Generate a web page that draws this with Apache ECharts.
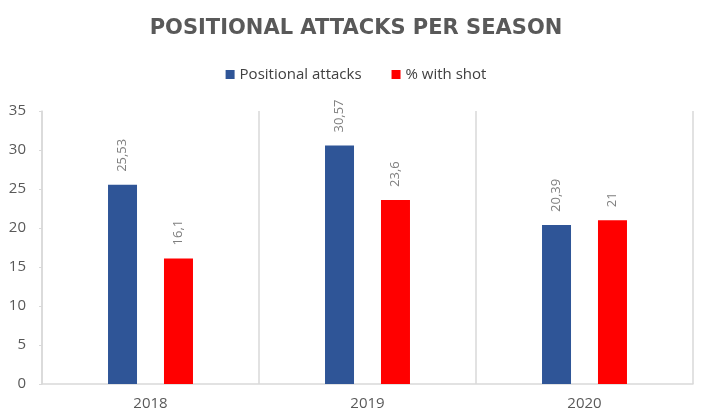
<!DOCTYPE html>
<html><head><meta charset="utf-8">
<script src="https://cdn.jsdelivr.net/npm/echarts@6/dist/echarts.min.js"></script>
<style>html,body{margin:0;padding:0;background:#fff}#c{width:712px;height:420px}</style>
</head><body><div id="c"></div>
<script>
const categories = ['2018', '2019', '2020'];
const positionalAttacks = [25.53, 30.57, 20.39];
const withShot = [16.1, 23.6, 21];
const yTicks = [0, 5, 10, 15, 20, 25, 30, 35];

const FONT = 'Open Sans';
const chart = echarts.init(document.getElementById('c'));
const lbl = {
  show: true, position: 'top', rotate: 90, align: 'left', verticalAlign: 'middle',
  distance: 13, color: '#7f7f7f', fontSize: 13, fontFamily: FONT,
  formatter: p => String(p.value).replace('.', ',')
};
chart.setOption({
  animation: false,
  title: {
    text: 'POSITIONAL ATTACKS PER SEASON', left: 'center', top: 13,
    textStyle: { color: '#595959', fontSize: 21, fontWeight: 'bold', fontFamily: 'DejaVu Sans' }
  },
  legend: {
    top: 62, left: 'center', itemWidth: 9, itemHeight: 9, itemGap: 30,
    icon: 'rect', textStyle: { color: '#404040', fontSize: 15, fontFamily: FONT }
  },
  grid: { left: 42, right: 19, top: 111, bottom: 36 },
  xAxis: {
    type: 'category', data: categories,
    axisLine: { lineStyle: { color: '#d9d9d9', width: 1.5 } },
    axisTick: { show: false },
    splitLine: { show: true, lineStyle: { color: '#d9d9d9', width: 1.5 } },
    axisLabel: { color: '#595959', fontSize: 15, fontFamily: FONT, margin: 12 }
  },
  yAxis: {
    type: 'value', min: yTicks[0], max: yTicks[yTicks.length - 1], interval: 5,
    axisLine: { show: true, lineStyle: { color: '#d9d9d9', width: 1.5 } },
    axisTick: { show: true, length: 3, lineStyle: { color: '#d9d9d9' } },
    splitLine: { show: false },
    axisLabel: { color: '#595959', fontSize: 15, fontFamily: FONT, margin: 16 }
  },
  series: [
    { name: 'Positional attacks', type: 'bar', data: positionalAttacks, barWidth: 29, barGap: '93%',
      itemStyle: { color: '#2F5597' }, label: lbl },
    { name: '% with shot', type: 'bar', data: withShot, barWidth: 29,
      itemStyle: { color: '#FF0000' }, label: lbl }
  ]
});
</script></body></html>
